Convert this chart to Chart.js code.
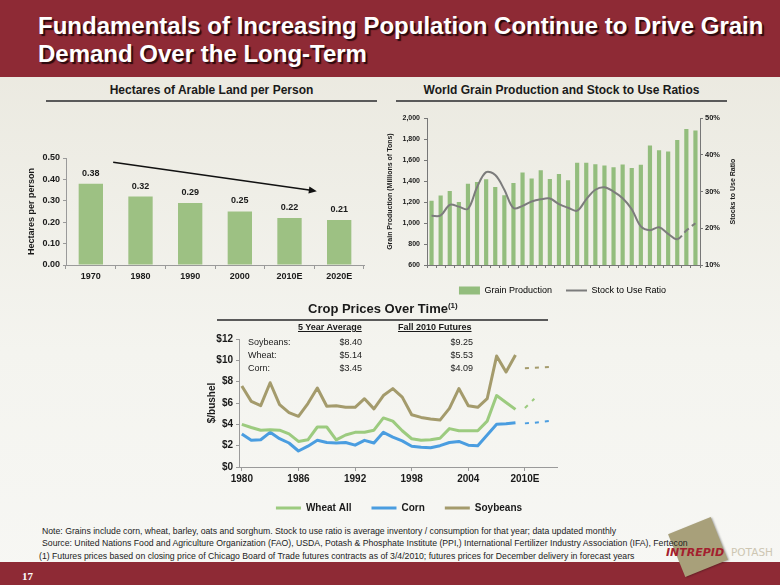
<!DOCTYPE html>
<html>
<head>
<meta charset="utf-8">
<title>Fundamentals of Increasing Population</title>
<script src="https://cdn.jsdelivr.net/npm/chart.js@4.4.1/dist/chart.umd.min.js"></script>
<style>
body { margin: 0; }
#page { position: relative; width: 780px; height: 585px; overflow: hidden; background: linear-gradient(#e9e7dd, #f4f4ef 60%, #f7f7f4); font-family: "Liberation Sans", Arial, sans-serif; color: #1a1a1a; }
.abs { position: absolute; }
#header { left: 0; top: 0; width: 780px; height: 77px; background: #8e2a35; }
#title { left: 38px; top: 12px; color: #fff; font-weight: bold; font-size: 24px; line-height: 28px; text-shadow: 2px 2px 1px #2a0a0e; white-space: nowrap; }
.sect { font-weight: bold; font-size: 12px; white-space: nowrap; text-align: center; }
.rule { height: 2px; background: #5a5a5a; }
.note { font-size: 8.7px; white-space: nowrap; color: #222; z-index: 2; }
.tbl { font-size: 9px; white-space: nowrap; }
.tblh { font-size: 9px; font-weight: bold; text-decoration: underline; white-space: nowrap; }
#footer { left: 0; top: 562px; width: 780px; height: 23px; background: #8e2a35; }
</style>
</head>
<body>
<div id="page">
  <div id="header" class="abs"></div>
  <div id="title" class="abs">Fundamentals of Increasing Population Continue to Drive Grain<br>Demand Over the Long-Term</div>

  <div class="abs sect" style="left:46px; top:83px; width:331px;">Hectares of Arable Land per Person</div>
  <div class="abs rule" style="left:46px; top:100px; width:331px;"></div>
  <div class="abs sect" style="left:396px; top:83px; width:331px;">World Grain Production and Stock to Use Ratios</div>
  <div class="abs rule" style="left:396px; top:100px; width:331px;"></div>

  <div class="abs" style="left:20px; top:140px; width:350px; height:145px;"><canvas id="landChart"></canvas></div>
  <div class="abs" style="left:380px; top:110px; width:365px; height:195px;"><canvas id="grainChart"></canvas></div>

  <div class="abs" style="left:308px; top:301px; font-size:13px; font-weight:bold; white-space:nowrap;">Crop Prices Over Time<sup style="font-size:8px;">(1)</sup></div>
  <div class="abs rule" style="left:217px; top:319px; width:331px;"></div>

  <div class="abs" style="left:199px; top:330px; width:400px; height:193px;"><canvas id="cropChart"></canvas></div>

  <div class="abs tblh" style="left:298px; top:322px;">5 Year Average</div>
  <div class="abs tblh" style="left:398px; top:322px;">Fall 2010 Futures</div>
  <div class="abs tbl" style="left:248px; top:336px; line-height:13px;">Soybeans:<br>Wheat:<br>Corn:</div>
  <div class="abs tbl" style="left:300px; width:62px; text-align:right; top:336px; line-height:13px;">$8.40<br>$5.14<br>$3.45</div>
  <div class="abs tbl" style="left:410px; width:63px; text-align:right; top:336px; line-height:13px;">$9.25<br>$5.53<br>$4.09</div>

  <div id="footer" class="abs"></div>
  <div class="abs" style="left:22px; top:570px; color:#fff; font-family:'Liberation Serif', serif; font-weight:bold; font-size:11px;">17</div>

  <div class="abs" style="left:675px; top:524px; width:46px; height:46px; background:#a8a07a; transform:rotate(-22deg); box-shadow:1px 1px 2px rgba(0,0,0,0.3);"></div>
  <div class="abs" style="left:666px; top:546px; font-family:'DejaVu Sans', sans-serif; font-weight:bold; font-style:italic; font-size:11px; color:#a3202e; white-space:nowrap;">INTREPID</div>
  <div class="abs" style="left:731px; top:546px; font-family:'DejaVu Sans', sans-serif; font-size:10.5px; color:#cdc6b2; white-space:nowrap;">POTASH</div>

  <div class="abs note" style="left:42px; top:526px;">Note: Grains include corn, wheat, barley, oats and sorghum. Stock to use ratio is average inventory / consumption for that year; data updated monthly</div>
  <div class="abs note" style="left:42px; top:538px;">Source: United Nations Food and Agriculture Organization (FAO), USDA, Potash &amp; Phosphate Institute (PPI,) International Fertilizer Industry Association (IFA), Fertecon</div>
  <div class="abs note" style="left:39px; top:551px;">(1) Futures prices based on closing price of Chicago Board of Trade futures contracts as of 3/4/2010; futures prices for December delivery in forecast years</div>
</div>

<script>
// hectares of arable land per person
var landYears = ['1970', '1980', '1990', '2000', '2010E', '2020E'];
var landPerPerson = [0.38, 0.32, 0.29, 0.25, 0.22, 0.21];
var arrowFrom = [0.45, 0.48];   // [category index, value]
var arrowTo = [4.55, 0.345];

// world grain production & stock to use
var grainYears = ['1980', '1981', '1982', '1983', '1984', '1985', '1986', '1987', '1988', '1989',
  '1990', '1991', '1992', '1993', '1994', '1995', '1996', '1997', '1998', '1999',
  '2000', '2001', '2002', '2003', '2004', '2005', '2006', '2007', '2008E', '2009E'];
var grainProduction = [1212, 1262, 1306, 1201, 1376, 1392, 1418, 1345, 1265, 1383,
  1481, 1424, 1504, 1421, 1469, 1408, 1574, 1574, 1561, 1548,
  1532, 1558, 1526, 1555, 1739, 1694, 1682, 1793, 1898, 1882];
var stockToUse = [23.4, 23.5, 26.4, 25.9, 25.3, 31.2, 35.3, 34.5, 30.5, 25.5,
  26.1, 27.3, 27.9, 28.1, 26.6, 25.6, 24.8, 27.9, 30.5, 31.2,
  30.0, 28.2, 25.2, 20.5, 19.5, 20.3, 18.5, 17.0, 19.4, 21.4];
var firstEstimate = 27;   // dashed from 2007 on

// crop prices ($/bushel)
var priceYears = [1980, 1981, 1982, 1983, 1984, 1985, 1986, 1987, 1988, 1989,
  1990, 1991, 1992, 1993, 1994, 1995, 1996, 1997, 1998, 1999,
  2000, 2001, 2002, 2003, 2004, 2005, 2006, 2007, 2008, 2009];
var wheatPrice = [4.0, 3.7, 3.45, 3.5, 3.45, 3.1, 2.4, 2.55, 3.75, 3.75,
  2.55, 3.0, 3.25, 3.25, 3.45, 4.6, 4.3, 3.4, 2.65, 2.5,
  2.55, 2.7, 3.6, 3.4, 3.4, 3.4, 4.3, 6.7, 6.05, 5.4];
var cornPrice = [3.1, 2.5, 2.55, 3.25, 2.65, 2.25, 1.5, 1.95, 2.5, 2.3,
  2.25, 2.3, 2.05, 2.5, 2.25, 3.25, 2.8, 2.45, 1.95, 1.85,
  1.8, 2.0, 2.3, 2.4, 2.05, 2.0, 3.0, 4.0, 4.05, 4.15];
var soyPrice = [7.6, 6.15, 5.75, 7.9, 5.85, 5.1, 4.75, 5.95, 7.4, 5.7,
  5.75, 5.6, 5.6, 6.4, 5.45, 6.7, 7.35, 6.55, 4.9, 4.65,
  4.5, 4.4, 5.5, 7.35, 5.75, 5.6, 6.4, 10.4, 8.9, 10.5];
var futureYears = [2010, 2011, 2012, 2013];
var wheatFuture = [5.53, 6.4];
var cornFuture = [4.09, 4.15, 4.25, 4.35];
var soyFuture = [9.25, 9.3, 9.35, 9.4];
var priceTicks = [1980, 1986, 1992, 1998, 2004, 2010];

Chart.defaults.font.family = '"Liberation Sans", Arial, sans-serif';
Chart.defaults.color = '#1a1a1a';
Chart.defaults.animation = false;
Chart.defaults.plugins.tooltip.enabled = false;

var green = '#9dc183';
var axisGray = '#9a9a9a';

// value labels above bars
var barValueLabels = {
  id: 'barValueLabels',
  afterDatasetsDraw: function(chart) {
    var ctx = chart.ctx;
    var meta = chart.getDatasetMeta(0);
    ctx.save();
    ctx.font = 'bold 9px "Liberation Sans", Arial';
    ctx.fillStyle = '#1a1a1a';
    ctx.textAlign = 'center';
    ctx.textBaseline = 'bottom';
    meta.data.forEach(function(bar, i) {
      ctx.fillText(landPerPerson[i].toFixed(2), bar.x, bar.y - 6);
    });
    ctx.restore();
  }
};

// declining trend arrow
var trendArrow = {
  id: 'trendArrow',
  afterDatasetsDraw: function(chart) {
    var sx = chart.scales.x, sy = chart.scales.y, ctx = chart.ctx;
    var x0 = sx.getPixelForValue(arrowFrom[0]), y0 = sy.getPixelForValue(arrowFrom[1]);
    var x1 = sx.getPixelForValue(arrowTo[0]), y1 = sy.getPixelForValue(arrowTo[1]);
    var a = Math.atan2(y1 - y0, x1 - x0);
    ctx.save();
    ctx.strokeStyle = '#111';
    ctx.fillStyle = '#111';
    ctx.lineWidth = 1.5;
    ctx.beginPath();
    ctx.moveTo(x0, y0);
    ctx.lineTo(x1 - 6 * Math.cos(a), y1 - 6 * Math.sin(a));
    ctx.stroke();
    ctx.beginPath();
    ctx.moveTo(x1, y1);
    ctx.lineTo(x1 - 8 * Math.cos(a) + 3.5 * Math.sin(a), y1 - 8 * Math.sin(a) - 3.5 * Math.cos(a));
    ctx.lineTo(x1 - 8 * Math.cos(a) - 3.5 * Math.sin(a), y1 - 8 * Math.sin(a) + 3.5 * Math.cos(a));
    ctx.closePath();
    ctx.fill();
    ctx.restore();
  }
};

new Chart(document.getElementById('landChart'), {
  type: 'bar',
  data: {
    labels: landYears,
    datasets: [{
      label: 'Hectares per person',
      data: landPerPerson,
      backgroundColor: green,
      barPercentage: 0.49,
      categoryPercentage: 1
    }]
  },
  options: {
    responsive: true,
    maintainAspectRatio: false,
    layout: { padding: { top: 18, right: 6, bottom: 0, left: 0 } },
    plugins: { legend: { display: false } },
    scales: {
      x: {
        grid: { drawOnChartArea: false, offset: true, tickLength: 4, color: axisGray },
        border: { color: axisGray },
        ticks: { font: { size: 9, weight: 'bold' }, padding: 2, maxRotation: 0 },
        afterFit: function(s) { s.height = 20; }
      },
      y: {
        min: 0,
        max: 0.5,
        grid: { drawOnChartArea: false, tickLength: 3, color: axisGray },
        border: { color: axisGray },
        ticks: { stepSize: 0.1, font: { size: 9, weight: 'bold' }, padding: 3,
          callback: function(v) { return v.toFixed(2); } },
        title: { display: true, text: 'Hectares per person', font: { size: 9, weight: 'bold' }, padding: { top: 6, bottom: 0 } },
        afterFit: function(s) { s.width = 46; }
      }
    }
  },
  plugins: [barValueLabels, trendArrow]
});

// right axis title reads bottom to top
var rightTitle = {
  id: 'rightTitle',
  afterDraw: function(chart) {
    var s = chart.scales.y2, ctx = chart.ctx;
    ctx.save();
    ctx.translate(s.right - 12, (chart.chartArea.top + chart.chartArea.bottom) / 2);
    ctx.rotate(-Math.PI / 2);
    ctx.font = 'bold 7px "Liberation Sans", Arial';
    ctx.fillStyle = '#1a1a1a';
    ctx.textAlign = 'center';
    ctx.textBaseline = 'middle';
    ctx.fillText('Stocks to Use Ratio', 0, 0);
    ctx.restore();
  }
};

new Chart(document.getElementById('grainChart'), {
  data: {
    labels: grainYears,
    datasets: [{
      type: 'line',
      label: 'Stock to Use Ratio',
      data: stockToUse,
      yAxisID: 'y2',
      borderColor: '#7c7c7c',
      borderWidth: 2,
      pointRadius: 0,
      tension: 0.35,
      segment: {
        borderDash: function(c) { return c.p0DataIndex >= firstEstimate ? [6, 4] : undefined; }
      },
      order: 0
    }, {
      type: 'bar',
      label: 'Grain Production',
      data: grainProduction,
      yAxisID: 'y',
      backgroundColor: '#93bd7d',
      barPercentage: 0.46,
      categoryPercentage: 1,
      order: 1
    }]
  },
  options: {
    responsive: true,
    maintainAspectRatio: false,
    layout: { padding: { top: 8, right: 0, bottom: 0, left: 0 } },
    plugins: {
      legend: {
        position: 'bottom',
        labels: {
          usePointStyle: true,
          pointStyleWidth: 21,
          boxHeight: 8,
          padding: 14,
          font: { size: 9 },
          color: '#1a1a1a',
          generateLabels: function(chart) {
            return [
              { text: 'Grain Production', fillStyle: '#93bd7d', strokeStyle: '#93bd7d', lineWidth: 0, pointStyle: 'rect', datasetIndex: 1 },
              { text: 'Stock to Use Ratio', fillStyle: '#7c7c7c', strokeStyle: '#7c7c7c', lineWidth: 2, pointStyle: 'line', datasetIndex: 0 }
            ];
          }
        }
      }
    },
    scales: {
      x: {
        type: 'category',
        offset: true,
        grid: { drawOnChartArea: false, offset: true, tickLength: 3, color: '#777' },
        border: { color: '#777' },
        ticks: {
          autoSkip: false, maxRotation: 0, padding: 3, font: { size: 7, weight: 'bold' },
          callback: function(v, i) { return i % 4 === 0 ? grainYears[i] : ''; }
        },
        afterFit: function(s) { s.height = 7; }
      },
      y: {
        position: 'left',
        min: 600,
        max: 2000,
        grid: { drawOnChartArea: false, tickLength: 3, color: '#777' },
        border: { color: '#777' },
        ticks: { stepSize: 200, padding: 4, font: { size: 7, weight: 'bold' },
          callback: function(v) { return v.toLocaleString('en-US'); } },
        title: { display: true, text: 'Grain Production (Millions of Tons)', font: { size: 7, weight: 'bold' }, padding: { top: 6, bottom: 0 } },
        afterFit: function(s) { s.width = 47; }
      },
      y2: {
        position: 'right',
        min: 10,
        max: 50,
        grid: { drawOnChartArea: false, tickLength: 3, color: '#777' },
        border: { color: '#777' },
        ticks: { stepSize: 10, padding: 2, font: { size: 7.5, weight: 'bold' },
          callback: function(v) { return v + '%'; } },
        afterFit: function(s) { s.width = 45; }
      }
    }
  },
  plugins: [rightTitle]
});

function toPoints(xs, ys) {
  return ys.map(function(v, i) { return { x: xs[i], y: v }; });
}

var wheatColor = '#9ccb7f';
var cornColor = '#4a9de0';
var soyColor = '#a49b6c';

function priceSeries(label, xs, ys, color, dashed) {
  return {
    label: label,
    data: toPoints(xs, ys),
    borderColor: color,
    backgroundColor: color,
    borderWidth: dashed ? 2 : 3,
    borderDash: dashed ? [4, 6] : [],
    borderJoinStyle: 'round',
    pointRadius: 0,
    pointStyle: 'line',
    tension: 0
  };
}

new Chart(document.getElementById('cropChart'), {
  type: 'line',
  data: {
    datasets: [
      priceSeries('Wheat All', priceYears, wheatPrice, wheatColor, false),
      priceSeries('Corn', priceYears, cornPrice, cornColor, false),
      priceSeries('Soybeans', priceYears, soyPrice, soyColor, false),
      priceSeries('Wheat futures', futureYears, wheatFuture, wheatColor, true),
      priceSeries('Corn futures', futureYears, cornFuture, cornColor, true),
      priceSeries('Soybean futures', futureYears, soyFuture, soyColor, true)
    ]
  },
  options: {
    responsive: true,
    maintainAspectRatio: false,
    layout: { padding: { top: 9, right: 0, bottom: 0, left: 0 } },
    plugins: {
      legend: {
        position: 'bottom',
        labels: {
          usePointStyle: true,
          pointStyleWidth: 25,
          boxHeight: 10,
          padding: 20,
          font: { size: 10, weight: 'bold' },
          color: '#1a1a1a',
          filter: function(item) { return item.datasetIndex < 3; }
        }
      }
    },
    scales: {
      x: {
        type: 'linear',
        min: 1979.7,
        max: 2013.4,
        grid: { drawOnChartArea: false, tickLength: 4, color: axisGray },
        border: { color: axisGray },
        afterBuildTicks: function(s) { s.ticks = priceTicks.map(function(v) { return { value: v }; }); },
        ticks: {
          padding: 2, font: { size: 10, weight: 'bold' }, maxRotation: 0,
          callback: function(v) { return v === 2010 ? '2010E' : String(v); }
        },
        afterFit: function(s) { s.height = 16; }
      },
      y: {
        min: 0,
        max: 12,
        grid: { drawOnChartArea: false, tickLength: 3, color: axisGray },
        border: { color: axisGray },
        ticks: { stepSize: 2, padding: 3, font: { size: 10, weight: 'bold' },
          callback: function(v) { return '$' + v; } },
        title: { display: true, text: '$/bushel', font: { size: 10, weight: 'bold' }, padding: { top: 7, bottom: 0 } },
        afterFit: function(s) { s.width = 40; }
      },
      spacer: {
        position: 'right',
        display: true,
        grid: { display: false },
        border: { display: false },
        ticks: { display: false },
        afterFit: function(s) { s.width = 42; }
      }
    }
  }
});
</script>
</body>
</html>
